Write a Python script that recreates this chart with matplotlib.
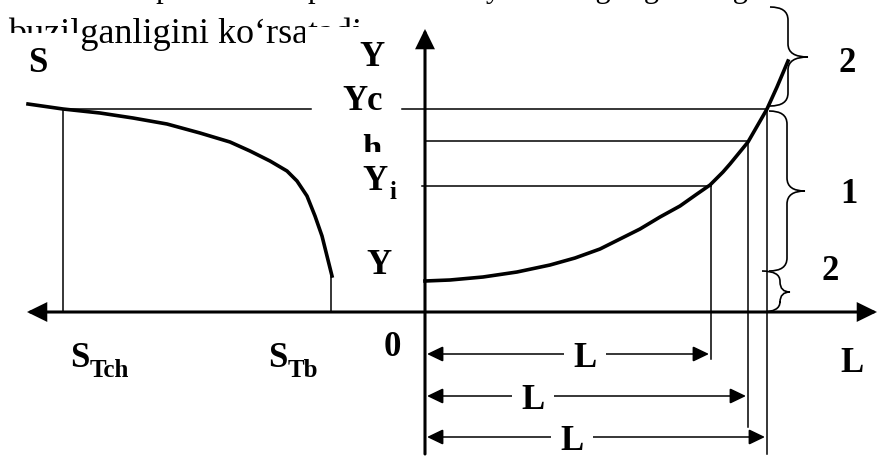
import matplotlib as mpl
import matplotlib.pyplot as plt
from matplotlib.patches import FancyArrowPatch, PathPatch, Rectangle
from matplotlib.path import Path

mpl.use("Agg")

plt.rcParams["font.family"] = ["Liberation Serif", "DejaVu Serif"]

left_curve_x = [28, 63, 100, 133, 167, 200, 230, 250, 270, 287, 297, 307, 315, 322, 327, 332]
left_curve_y = [105, 110, 114, 119, 125, 134, 143, 152, 162, 172, 182, 197, 217, 237, 257, 277]

right_curve_x = [425, 450, 483, 517, 550, 575, 600, 620, 640, 660, 680, 697, 710, 723, 730, 748, 767, 777, 788]
right_curve_y = [282, 281, 278, 273, 266, 259, 250, 240, 230, 218, 207, 195, 186, 173, 165, 143, 110, 88, 62]

level_y = [110, 142, 187]           # Yc, h, Yi
level_x = [767, 748, 711]           # where each level meets the curve
drop_end = [455, 428, 360]          # lower end of the vertical drop lines

dim_y = [355, 397, 438]             # the three L dimension arrows
dim_label_x = [585, 533, 572]

brace_top = [8, 112, 272]
brace_bottom = [107, 272, 313]
brace_mid = [58, 192, 293]
brace_body_x = [788, 787, 780]
brace_tip_x = [808, 805, 790]
brace_labels = ["2", "1", "2"]
brace_label_xy = [(847, 63), (849, 195), (830, 272)]

axis_y = 313
axis_x = 425
s_tch_x = 63
s_tb_x = 331

fig = plt.figure(figsize=(8.77, 4.6), dpi=100)
ax = fig.add_axes([0, 0, 1, 1])
ax.set_xlim(0, 877)
ax.set_ylim(460, 0)
ax.set_axis_off()

# text of the page the figure was cut from
ax.text(2, -2.5, "Ushbu rasm parallelidan pastki holatda yuzasini gili gruntli gorizontlari",
        fontsize=22, va="baseline", ha="left", zorder=1)
ax.text(8, 43, "buzilganligini ko\u2018rsatadi", fontsize=26, va="baseline", ha="left", zorder=1)

# white label boxes laid over the page text
ax.add_patch(Rectangle((0, 34), 80, 55, fc="white", ec="none", zorder=2))
ax.add_patch(Rectangle((305, 28), 97, 107, fc="white", ec="none", zorder=2))


def arrow(p0, p1, style, lw, hl=0.55, hw=0.27, z=3):
    a = FancyArrowPatch(p0, p1, arrowstyle=f"{style},head_length={hl},head_width={hw}",
                        mutation_scale=20, lw=lw, color="black", shrinkA=0, shrinkB=0,
                        joinstyle="miter", zorder=z)
    ax.add_patch(a)


# axes
arrow((27, axis_y), (877, axis_y), "<|-|>", 2.2)
arrow((axis_x, 455), (axis_x, 30), "-|>", 2.2)

# curves
ax.plot(left_curve_x, left_curve_y, color="black", lw=2.6, solid_joinstyle="round", zorder=3)
ax.plot(right_curve_x, right_curve_y, color="black", lw=2.6, solid_joinstyle="round", zorder=3)

# thin construction lines
thin = dict(color="black", lw=1.1, zorder=3)
ax.plot([s_tch_x, 311], [level_y[0]] * 2, **thin)
ax.plot([402, level_x[0]], [level_y[0]] * 2, **thin)
ax.plot([axis_x, level_x[1]], [level_y[1]] * 2, **thin)
ax.plot([422, level_x[2]], [level_y[2]] * 2, **thin)
ax.plot([s_tch_x, s_tch_x], [level_y[0], axis_y], **thin)
ax.plot([s_tb_x, s_tb_x], [left_curve_y[-1], axis_y], **thin)
for lx, ly, le in zip(level_x, level_y, drop_end):
    ax.plot([lx, lx], [ly, le], **thin)

# dimension arrows
for dy, lx, le in zip(dim_y, dim_label_x, level_x[::-1]):
    arrow((axis_x + 2, dy), (le - 2, dy), "<|-|>", 1.1, hl=0.5, hw=0.24)
    ax.text(lx, dy + 4, "L", fontsize=25, fontweight="bold", ha="center", va="center",
            zorder=4, bbox=dict(fc="white", ec="none", pad=7))


# curly braces
def brace(xb, xt, y0, y1, ym, r):
    x0 = xb - 18
    verts = [(x0, y0), (xb, y0), (xb, y0 + r),
             (xb, ym - r),
             (xb, ym), (xt, ym),
             (xb, ym), (xb, ym + r),
             (xb, y1 - r),
             (xb, y1), (x0, y1)]
    codes = [Path.MOVETO, Path.CURVE3, Path.CURVE3, Path.LINETO, Path.CURVE3, Path.CURVE3,
             Path.CURVE3, Path.CURVE3, Path.LINETO, Path.CURVE3, Path.CURVE3]
    ax.add_patch(PathPatch(Path(verts, codes), fc="none", ec="black", lw=1.2, zorder=3))


for xb, xt, y0, y1, ym in zip(brace_body_x, brace_tip_x, brace_top, brace_bottom, brace_mid):
    r = min(13, (y1 - y0) / 4)
    brace(xb, xt, y0, y1, ym, r)
for lab, (bx, by) in zip(brace_labels, brace_label_xy):
    ax.text(bx, by, lab, fontsize=25, fontweight="bold", ha="center", va="center")

# labels
lab = dict(fontsize=25, fontweight="bold", ha="center", va="center", zorder=3)
sub = dict(fontsize=18, fontweight="bold", ha="left", va="baseline", zorder=5)
ax.text(38, 64, "S", **lab)
ax.text(372, 58, "Y", **lab)
ax.text(363, 101, "Yc", **lab)
ax.text(372, 151, "h", **lab)
ax.add_patch(Rectangle((340, 153), 62, 45, fc="white", ec="none", zorder=4))
ax.text(375, 182, "Y", fontsize=25, fontweight="bold", ha="center", va="center", zorder=5)
ax.text(389, 199, "i", **sub)
ax.text(379, 266, "Y", **lab)
ax.text(392, 348, "0", **lab)
ax.text(852, 364, "L", **lab)
ax.text(80, 359, "S", **lab)
ax.text(90, 377, "Tch", **sub)
ax.text(278, 359, "S", **lab)
ax.text(288, 377, "Tb", **sub)

fig.savefig("out.png", dpi=100)
